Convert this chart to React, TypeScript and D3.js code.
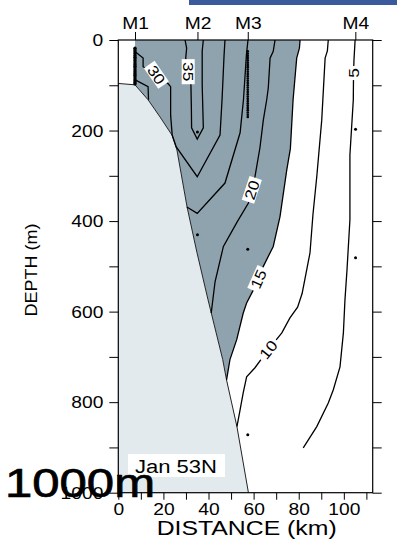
import React, { useEffect, useRef } from "react";
import * as d3 from "d3";

type Pt = [number, number]; // [distance km, depth m]

const xTicks = [0, 20, 40, 60, 80, 100];
const xMinorTicks = [10, 30, 50, 70, 90, 110];
const yTicks = [0, 200, 400, 600, 800, 1000];
const yMinorTicks = [100, 300, 500, 700, 900];
const stations = ["M1", "M2", "M3", "M4"];
const stationKm = [7.4, 35.1, 57.4, 105.1];

// shelf / slope bottom
const slope: Pt[] = [
  [0, 96], [7.4, 99], [13.2, 132], [18.5, 170], [23.8, 210], [26.0, 243],
  [30.5, 369], [34.9, 470], [39.8, 574], [46.3, 706], [48.0, 751],
  [52.6, 854], [57.7, 1000],
];

const contour35: Pt[] = [
  [29.6, 0], [30.3, 18], [29.9, 40], [31.0, 70], [32.2, 99], [32.4, 150],
  [32.5, 194], [35.0, 219], [37.7, 194], [37.2, 100], [37.2, 24], [37.7, 0],
];
const contour30: Pt[] = [
  [7.5, 26], [11.0, 40], [11.0, 59], [16.9, 77], [22.0, 96], [23.2, 103],
  [23.2, 166], [23.9, 210], [25.7, 236], [35.0, 302], [45.1, 210],
  [46.0, 132], [46.9, 33], [47.3, 0],
];
const contour30b: Pt[] = [[7.5, 88], [13.2, 103], [13.4, 132]];
const contour25: Pt[] = [
  [57.5, 0], [56.8, 33], [55.5, 132], [54.0, 205], [47.3, 316], [35.0, 383],
  [30.4, 369],
];
const contour20: Pt[] = [
  [69.5, 0], [68.7, 25], [67.3, 40], [66.5, 106], [65.8, 132], [64.3, 177],
  [62.8, 238], [60.6, 302], [59.2, 331], [57.7, 360], [52.9, 400],
  [46.6, 456], [42.9, 534], [41.2, 603],
];
const contour15: Pt[] = [
  [80.6, 0], [80.3, 18], [79.1, 40], [77.5, 132], [76.3, 240], [74.7, 287],
  [71.7, 390], [68.7, 456], [64.3, 500], [62.1, 528], [59.9, 552],
  [56.9, 581], [55.4, 603], [52.5, 662], [49.5, 706], [48.0, 751],
];
const contour10: Pt[] = [
  [93.1, 0], [92.7, 24], [91.7, 40], [90.2, 177], [88.0, 302], [86.3, 386],
  [85.0, 470], [81.5, 560], [79.5, 590], [76.1, 614], [72.5, 647],
  [66.5, 684], [60.6, 724], [56.9, 744], [55.4, 779], [54.0, 817], [52.6, 854],
];
const contour5: Pt[] = [
  [105.0, 0], [104.5, 44], [104.3, 73], [104.2, 132], [102.7, 254],
  [102.7, 397], [101.4, 508], [100.5, 574], [99.8, 647], [98.3, 722],
  [95.3, 773], [93.1, 802], [88.0, 854], [82.0, 901],
];
const contours = [contour35, contour30, contour30b, contour25, contour20, contour15, contour10, contour5];

const contourLabels = [
  { text: "5", km: 104.3, depth: 73, angle: -90 },
  { text: "10", km: 66.5, depth: 684, angle: -51 },
  { text: "15", km: 62.1, depth: 528, angle: -66 },
  { text: "20", km: 59.2, depth: 331, angle: -72 },
  { text: "30", km: 16.9, depth: 77, angle: 55 },
  { text: "35", km: 31.0, depth: 70, angle: 90 },
];

// sample depths
const m1Depths = [18, 22, 26, 30, 34, 38, 42, 46, 50, 54, 58, 62, 66, 70, 74, 78, 82, 86, 90, 94, 97];
const m3Depths = [25, 30, 35, 40, 45, 50, 55, 60, 65, 70, 75, 80, 85, 90, 95, 100, 105, 110, 115, 120, 125, 130, 135, 140, 145, 150, 155, 160, 165, 170];
const bottles: Pt[] = [
  [35.1, 203], [35.1, 430], [57.4, 462], [57.4, 872], [105.2, 197], [105.2, 481],
];

const FONT = "'Liberation Sans', Arial, Helvetica, sans-serif";
const DARK = "#8fa3ae";
const LIGHT = "#e2eaee";

const stretch = (sel: any, k: number) =>
  sel.each(function (this: SVGTextElement) {
    const len = this.getComputedTextLength();
    d3.select(this).attr("textLength", len * k).attr("lengthAdjust", "spacingAndGlyphs");
  });

export default function App() {
  const ref = useRef<SVGSVGElement>(null);

  useEffect(() => {
    const svg = d3.select(ref.current);
    svg.selectAll("*").remove();

    const x = d3.scaleLinear().domain([0, 112.8]).range([118.3, 372.7]);
    const y = d3.scaleLinear().domain([0, 1000]).range([40, 492.7]);
    const line = d3.line<Pt>().x((d) => x(d[0])).y((d) => y(d[1]));

    svg.append("rect").attr("x", 189).attr("y", 0).attr("width", 208).attr("height", 5).attr("fill", "#3b5a9d");

    svg.append("defs").append("clipPath").attr("id", "plotclip")
      .append("rect").attr("x", x(0)).attr("y", y(0))
      .attr("width", x(112.8) - x(0)).attr("height", y(1000) - y(0));

    const plot = svg.append("g").attr("clip-path", "url(#plotclip)");

    // shaded water mass: from M1 to the 15 contour, down to the slope
    const upper = slope.filter((d) => d[1] >= 99 && d[1] <= 751).slice().reverse();
    const darkPoly: Pt[] = [[stationKm[0], 0], ...contour15, ...upper, [stationKm[0], 0]];
    plot.append("path").attr("d", line(darkPoly) + "Z").attr("fill", DARK);

    const lightPoly: Pt[] = [...slope, [0, 1000]];
    plot.append("path").attr("d", line(lightPoly) + "Z").attr("fill", LIGHT);
    plot.append("path").attr("d", line(slope)).attr("fill", "none").attr("stroke", "#222").attr("stroke-width", 1);

    plot.selectAll(".contour").data(contours).join("path")
      .attr("class", "contour")
      .attr("d", (d) => line(d))
      .attr("fill", "none")
      .attr("stroke", "#000")
      .attr("stroke-width", 1.3);

    // sampling points
    plot.selectAll(".m1").data(m1Depths).join("circle")
      .attr("class", "m1").attr("cx", x(stationKm[0])).attr("cy", (d) => y(d)).attr("r", 1.7).attr("fill", "#000");
    plot.selectAll(".m3").data(m3Depths).join("circle")
      .attr("class", "m3").attr("cx", x(stationKm[2])).attr("cy", (d) => y(d)).attr("r", 1.3).attr("fill", "#000");
    plot.selectAll(".bottle").data(bottles).join("circle")
      .attr("class", "bottle").attr("cx", (d) => x(d[0])).attr("cy", (d) => y(d[1])).attr("r", 1.5).attr("fill", "#000");

    // contour labels
    const lg = plot.selectAll(".clabel").data(contourLabels).join("g")
      .attr("class", "clabel")
      .attr("transform", (d) => `translate(${x(d.km)},${y(d.depth)}) rotate(${d.angle})`);
    const lt = lg.append("text")
      .attr("text-anchor", "middle").attr("dy", "0.36em")
      .attr("font-family", FONT).attr("font-size", 15).attr("fill", "#000")
      .text((d) => d.text);
    stretch(lt, 1.15);
    lg.insert("rect", "text").each(function () {
      const t = (this as SVGRectElement).parentNode!.querySelector("text") as SVGTextElement;
      const w = t.getComputedTextLength() * 1.15 + 3;
      d3.select(this).attr("x", -w / 2).attr("y", -6.5).attr("width", w).attr("height", 13).attr("fill", "#fff");
    });

    // station label box
    svg.append("rect").attr("x", 128).attr("y", 454).attr("width", 97).attr("height", 23).attr("fill", "#fff");
    svg.append("text").attr("x", 135).attr("y", 473).attr("font-family", FONT).attr("font-size", 18)
      .attr("textLength", 82).attr("lengthAdjust", "spacingAndGlyphs").text("Jan 53N");

    // axes
    const styleAxis = (g: any) => {
      g.select(".domain").remove();
      g.selectAll("line").attr("stroke", "#000").attr("stroke-width", 1);
      g.selectAll("text").attr("font-family", FONT).attr("font-size", 16).attr("fill", "#000");
    };

    const left = svg.append("g").attr("transform", `translate(${x(0)},0)`)
      .call(d3.axisLeft(y).tickValues(yTicks).tickSize(9).tickPadding(6).tickFormat(d3.format("d")))
      .call(styleAxis);
    left.selectAll("text").attr("dy", "0.36em");
    stretch(left.selectAll("text"), 1.2);
    svg.append("g").attr("transform", `translate(${x(0)},0)`)
      .call(d3.axisLeft(y).tickValues(yMinorTicks).tickSize(9).tickFormat(() => ""))
      .call(styleAxis);
    svg.append("g").attr("transform", `translate(${x(112.8)},0)`)
      .call(d3.axisRight(y).tickValues([...yTicks, ...yMinorTicks]).tickSize(9).tickFormat(() => ""))
      .call(styleAxis);

    const bottom = svg.append("g").attr("transform", `translate(0,${y(1000)})`)
      .call(d3.axisBottom(x).tickValues(xTicks).tickSize(7).tickPadding(3.5).tickFormat(d3.format("d")))
      .call(styleAxis);
    stretch(bottom.selectAll("text"), 1.2);
    svg.append("g").attr("transform", `translate(0,${y(1000)})`)
      .call(d3.axisBottom(x).tickValues(xMinorTicks).tickSize(7).tickFormat(() => ""))
      .call(styleAxis);

    const top = svg.append("g").attr("transform", `translate(0,${y(0)})`)
      .call(d3.axisTop(x).tickValues(stationKm).tickSize(8).tickPadding(3.5)
        .tickFormat((_, i) => stations[i]))
      .call(styleAxis);
    stretch(top.selectAll("text"), 1.2);

    svg.append("rect").attr("x", x(0)).attr("y", y(0))
      .attr("width", x(112.8) - x(0)).attr("height", y(1000) - y(0))
      .attr("fill", "none").attr("stroke", "#000").attr("stroke-width", 1.2);

    // axis titles
    svg.append("text").attr("x", 246.7).attr("y", 534.5).attr("text-anchor", "middle")
      .attr("font-family", FONT).attr("font-size", 20)
      .attr("textLength", 180).attr("lengthAdjust", "spacingAndGlyphs").text("DISTANCE (km)");
    svg.append("text").attr("transform", "translate(37,270) rotate(-90)").attr("text-anchor", "middle")
      .attr("font-family", FONT).attr("font-size", 16)
      .attr("textLength", 93).attr("lengthAdjust", "spacingAndGlyphs").text("DEPTH (m)");

    // overlay annotation
    svg.append("text").attr("x", 5).attr("y", 497)
      .attr("font-family", FONT).attr("font-size", 40).attr("fill", "#000")
      .attr("stroke", "#000").attr("stroke-width", 0.7)
      .attr("textLength", 150).attr("lengthAdjust", "spacingAndGlyphs").text("1000m");
  }, []);

  return (
    <svg
      ref={ref}
      width={397}
      height={546}
      style={{ position: "absolute", left: 0, top: 0, background: "#fff" }}
    />
  );
}
